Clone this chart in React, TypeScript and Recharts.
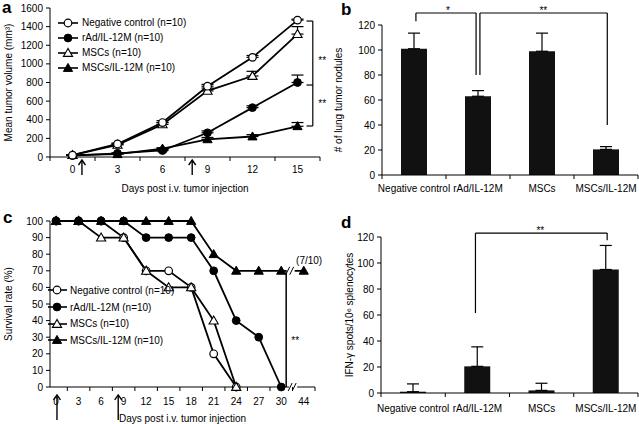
import React from 'react';
import {
  LineChart, Line, BarChart, Bar, XAxis, YAxis, ErrorBar, ReferenceLine, ReferenceDot, Legend,
} from 'recharts';

const FONT = "'Liberation Sans', Arial, Helvetica, sans-serif";

// ---------- shared ----------
const SERIES_NAMES = ['Negative control (n=10)', 'rAd/IL-12M (n=10)', 'MSCs (n=10)', 'MSCs/IL-12M (n=10)'];
const SERIES_KEYS = ['nc', 'rad', 'msc', 'mscil'];
const MARKERS = ['openCircle', 'filledCircle', 'openTriangle', 'filledTriangle'];
const GROUPS = ['Negative control', 'rAd/IL-12M', 'MSCs', 'MSCs/IL-12M'];

// ---------- panel a ----------
const DAYS_A = ['0', '3', '6', '9', '12', '15'];
const NC_A = [20, 140, 370, 760, 1070, 1470];
const RAD_A = [15, 40, 70, 260, 530, 800];
const MSC_A = [20, 130, 350, 710, 870, 1320];
const MSCIL_A = [20, 30, 90, 190, 220, 330];
const NC_A_ERR = [5, 10, 20, 20, 20, 10];
const RAD_A_ERR = [5, 5, 10, 20, 20, 80];
const MSC_A_ERR = [5, 10, 20, 30, 50, 80];
const MSCIL_A_ERR = [5, 5, 10, 20, 20, 40];
const Y_TICKS_A = [0, 200, 400, 600, 800, 1000, 1200, 1400, 1600];

// ---------- panel b ----------
const NODULES = [101, 63, 99, 20.5];
const NODULES_ERR = [12.5, 4.5, 14.5, 2.2];
const Y_TICKS_B = [0, 20, 40, 60, 80, 100, 120];

// ---------- panel c ----------
const DAYS_C = ['0', '3', '6', '9', '12', '15', '18', '21', '24', '27', '30', '44'];
const NC_C = [100, 100, 100, 90, 70, 70, 60, 20, 0];
const RAD_C = [100, 100, 100, 100, 90, 90, 90, 70, 40, 30, 0];
const MSC_C = [100, 100, 90, 90, 70, 60, 60, 40, 0];
const MSCIL_C = [100, 100, 100, 100, 100, 100, 100, 80, 70, 70, 70, 70];
const Y_TICKS_C = [0, 10, 20, 30, 40, 50, 60, 70, 80, 90, 100];

// ---------- panel d ----------
const IFN = [1, 20.5, 2, 95];
const IFN_ERR = [6, 15, 5.5, 18.5];
const Y_TICKS_D = [0, 20, 40, 60, 80, 100, 120];

const rowsA = DAYS_A.map((d, i) => ({
  x: i,
  nc: NC_A[i], rad: RAD_A[i], msc: MSC_A[i], mscil: MSCIL_A[i],
  ncE: [0, NC_A_ERR[i]], radE: [0, RAD_A_ERR[i]], mscE: [0, MSC_A_ERR[i]], mscilE: [0, MSCIL_A_ERR[i]],
}));
const rowsC = DAYS_C.map((d, i) => ({ x: i, nc: NC_C[i], rad: RAD_C[i], msc: MSC_C[i], mscil: MSCIL_C[i] }));
const rowsB = GROUPS.map((g, i) => ({ x: i, name: g, v: NODULES[i], e: [0, NODULES_ERR[i]] }));
const rowsD = GROUPS.map((g, i) => ({ x: i, name: g, v: IFN[i], e: [0, IFN_ERR[i]] }));

const halfTicks = (lo: number, hi: number) => {
  const out: number[] = [];
  for (let v = lo; v <= hi + 1e-9; v += 0.5) out.push(Math.round(v * 10) / 10);
  return out;
};

const drawMarker = (kind: string, cx: number, cy: number, key?: any) => {
  if (cx == null || cy == null || isNaN(cx) || isNaN(cy)) return <g key={key} />;
  if (kind === 'openCircle') return <circle key={key} cx={cx} cy={cy} r={3.8} fill="#fff" stroke="#000" strokeWidth={1.2} />;
  if (kind === 'filledCircle') return <circle key={key} cx={cx} cy={cy} r={3.9} fill="#000" stroke="#000" strokeWidth={1} />;
  const pts = `${cx},${cy - 4.6} ${cx - 4.6},${cy + 3.4} ${cx + 4.6},${cy + 3.4}`;
  if (kind === 'openTriangle') return <polygon key={key} points={pts} fill="#fff" stroke="#000" strokeWidth={1.1} />;
  return <polygon key={key} points={pts} fill="#000" stroke="#000" strokeWidth={1} />;
};

const makeDot = (kind: string) => (p: any) => drawMarker(kind, p.cx, p.cy, p.index);

const catTick = (labels: string[], dy: number) => (p: any) => {
  const { x, y, payload } = p;
  const v = payload.value;
  if (Number.isInteger(v)) {
    return (
      <text x={x} y={y + dy} textAnchor="middle" fontSize={10} fill="#000" fontFamily={FONT}>
        {labels[v]}
      </text>
    );
  }
  return <line x1={x} x2={x} y1={y} y2={y + 4} stroke="#000" strokeWidth={1} />;
};

const arrowShape = (len: number) => (p: any) => {
  const { cx, cy } = p;
  return (
    <g>
      <line x1={cx} x2={cx} y1={cy} y2={cy + len} stroke="#000" strokeWidth={1.4} />
      <path d={`M${cx - 3.5},${cy + 5} L${cx},${cy} L${cx + 3.5},${cy + 5}`} fill="none" stroke="#000" strokeWidth={1.4} />
    </g>
  );
};

const breakShape = (p: any) => {
  const { cx, cy } = p;
  return (
    <g>
      <rect x={cx - 4} y={cy - 2} width={8} height={4} fill="#fff" />
      <line x1={cx - 5} y1={cy + 4} x2={cx - 1} y2={cy - 4} stroke="#000" strokeWidth={1} />
      <line x1={cx - 1} y1={cy + 4} x2={cx + 3} y2={cy - 4} stroke="#000" strokeWidth={1} />
    </g>
  );
};

const legendContent = (lineW: number, markerX: number, gap: number, rowH: number) => () => (
  <div style={{ fontFamily: FONT, fontSize: 10, color: '#000' }}>
    {SERIES_NAMES.map((n, i) => (
      <div key={n} style={{ display: 'flex', alignItems: 'center', height: rowH, whiteSpace: 'nowrap' }}>
        <svg width={lineW} height={12} style={{ display: 'block' }}>
          <line x1={0} x2={lineW} y1={6} y2={6} stroke="#000" strokeWidth={1.6} />
          {drawMarker(MARKERS[i], markerX, 6)}
        </svg>
        <span style={{ marginLeft: gap }}>{n}</span>
      </div>
    ))}
  </div>
);

const axisStroke = { stroke: '#000', strokeWidth: 1 };
const yTick = { fontSize: 10, fill: '#000', fontFamily: FONT };
const yLabel = (value: string, offset: number) => ({
  value, angle: -90, position: 'insideLeft', offset,
  style: { textAnchor: 'middle', fontSize: 10, fill: '#000', fontFamily: FONT },
});
const starLabel = (v: string) => ({ value: v, position: 'center', fontSize: 10, fill: '#000', fontFamily: FONT });

const PanelA = () => (
  <LineChart width={330} height={210} data={rowsA} margin={{ top: 8, right: 10, bottom: 0, left: 0 }}>
    <XAxis type="number" dataKey="x" domain={[-0.5, 5.5]} ticks={halfTicks(-0.5, 5.5)} interval={0}
      tickLine={false} tickSize={0} tickMargin={0} tick={catTick(DAYS_A, 16)} height={53} axisLine={axisStroke}
      label={{ value: 'Days post i.v. tumor injection', position: 'insideBottom', offset: 18, fontSize: 10, fill: '#000', fontFamily: FONT }} />
    <YAxis width={50} domain={[0, 1600]} ticks={Y_TICKS_A} interval={0} tick={yTick} tickSize={4} tickMargin={3}
      axisLine={axisStroke} tickLine={axisStroke} label={yLabel('Mean tumor volume (mm³)', 8)} />
    <Legend layout="vertical" align="center" verticalAlign="middle" wrapperStyle={{ left: 58, top: 15, width: 'auto' }}
      content={legendContent(20, 10, 4, 15)} />
    {[3, 1, 2, 0].map((i) => (
      <Line key={SERIES_KEYS[i]} dataKey={SERIES_KEYS[i]} name={SERIES_NAMES[i]} stroke="#000" strokeWidth={1.8}
        dot={makeDot(MARKERS[i])} activeDot={false} isAnimationActive={false} legendType="none">
        <ErrorBar dataKey={SERIES_KEYS[i] + 'E'} width={6} stroke="#000" strokeWidth={1.2} direction="y" />
      </Line>
    ))}
    <ReferenceLine segment={[{ x: 5.34, y: 1460 }, { x: 5.34, y: 333 }]} stroke="#000" strokeWidth={1.2} ifOverflow="visible" />
    <ReferenceLine segment={[{ x: 5.2, y: 1460 }, { x: 5.34, y: 1460 }]} stroke="#000" strokeWidth={1.2} ifOverflow="visible" />
    <ReferenceLine segment={[{ x: 5.2, y: 773 }, { x: 5.34, y: 773 }]} stroke="#000" strokeWidth={1.2} ifOverflow="visible" />
    <ReferenceLine segment={[{ x: 5.2, y: 333 }, { x: 5.34, y: 333 }]} stroke="#000" strokeWidth={1.2} ifOverflow="visible" />
    <ReferenceDot x={5.55} y={1040} r={0} ifOverflow="visible" label={starLabel('**')} />
    <ReferenceDot x={5.55} y={570} r={0} ifOverflow="visible" label={starLabel('**')} />
    <ReferenceDot x={0.21} y={-32} r={0} ifOverflow="visible" shape={arrowShape(15)} />
    <ReferenceDot x={2.66} y={-32} r={0} ifOverflow="visible" shape={arrowShape(15)} />
  </LineChart>
);

const PanelC = () => (
  <LineChart width={330} height={214} data={rowsC} margin={{ top: 11, right: 15, bottom: 0, left: 0 }}>
    <XAxis type="number" dataKey="x" domain={[-0.27, 11.5]} ticks={halfTicks(0, 11.5)} interval={0}
      tickLine={false} tickSize={0} tickMargin={0} tick={catTick(DAYS_C, 18)} height={37} axisLine={axisStroke}
      allowDataOverflow
      label={{ value: 'Days post i.v. tumor injection', position: 'insideBottom', offset: 2.5, fontSize: 10, fill: '#000', fontFamily: FONT }} />
    <YAxis width={50} domain={[0, 100]} ticks={Y_TICKS_C} interval={0} tick={yTick} tickSize={4} tickMargin={3}
      axisLine={axisStroke} tickLine={axisStroke} label={yLabel('Survival rate (%)', 8)} />
    <Legend layout="vertical" align="center" verticalAlign="middle" wrapperStyle={{ left: 48, top: 72, width: 'auto' }}
      content={legendContent(19, 9, 3, 16.7)} />
    {[0, 2, 1, 3].map((i) => (
      <Line key={SERIES_KEYS[i]} dataKey={SERIES_KEYS[i]} name={SERIES_NAMES[i]} stroke="#000" strokeWidth={1.8}
        dot={makeDot(MARKERS[i])} activeDot={false} isAnimationActive={false} legendType="none" />
    ))}
    <ReferenceLine segment={[{ x: 10.22, y: 70 }, { x: 10.22, y: 0 }]} stroke="#000" strokeWidth={1.5} ifOverflow="visible" />
    <ReferenceDot x={10.62} y={28} r={0} ifOverflow="visible" label={starLabel('**')} />
    <ReferenceDot x={11.24} y={76} r={0} ifOverflow="visible" label={{ value: '(7/10)', position: 'center', fontSize: 10, fill: '#000', fontFamily: FONT }} />
    <ReferenceDot x={10.53} y={0} r={0} ifOverflow="visible" shape={breakShape} />
    <ReferenceDot x={10.42} y={70} r={0} ifOverflow="visible" shape={breakShape} />
    <ReferenceDot x={0.04} y={-4.8} r={0} ifOverflow="visible" shape={arrowShape(25)} />
    <ReferenceDot x={2.76} y={-4.8} r={0} ifOverflow="visible" shape={arrowShape(25)} />
  </LineChart>
);

const BarPanel = ({ rows, yTicks, height, top, yW, label, labelOffset, tickDy, xH, children }: any) => (
  <BarChart width={319} height={height} data={rows} margin={{ top, right: 1, bottom: 0, left: 0 }}>
    <XAxis type="number" dataKey="x" domain={[-0.5, 3.5]} ticks={halfTicks(-0.5, 3.5)} interval={0} allowDataOverflow
      tickLine={false} tickSize={0} tickMargin={0} tick={catTick(GROUPS, tickDy)} height={xH} axisLine={axisStroke} />
    <YAxis width={yW} domain={[0, 120]} ticks={yTicks} interval={0} tick={yTick} tickSize={4} tickMargin={3}
      axisLine={axisStroke} tickLine={axisStroke} label={yLabel(label, labelOffset)} />
    <Bar dataKey="v" fill="#111" barSize={26} isAnimationActive={false}>
      <ErrorBar dataKey="e" width={6} stroke="#000" strokeWidth={1.2} direction="y" />
    </Bar>
    {children}
  </BarChart>
);

const seg = (x1: number, y1: number, x2: number, y2: number, k: string) => (
  <ReferenceLine key={k} segment={[{ x: x1, y: y1 }, { x: x2, y: y2 }]} stroke="#000" strokeWidth={1.2} ifOverflow="visible" />
);

const PanelB = () => (
  <BarPanel rows={rowsB} yTicks={Y_TICKS_B} height={210} top={25} yW={62} label="# of lung tumor nodules" labelOffset={18} tickDy={17} xH={35}>
    {seg(0.03, 129.6, 0.97, 129.6, 'b1')}
    {seg(0.03, 129.6, 0.03, 123, 'b2')}
    {seg(0.97, 129.6, 0.97, 80, 'b3')}
    {seg(1.03, 129.6, 3.02, 129.6, 'b4')}
    {seg(1.03, 129.6, 1.03, 80, 'b5')}
    {seg(3.02, 129.6, 3.02, 40, 'b6')}
    <ReferenceDot x={0.53} y={132} r={0} ifOverflow="visible" label={starLabel('*')} />
    <ReferenceDot x={2.02} y={132} r={0} ifOverflow="visible" label={starLabel('**')} />
  </BarPanel>
);

const PanelD = () => (
  <BarPanel rows={rowsD} yTicks={Y_TICKS_D} height={214} top={27} yW={61} label="IFN-γ spots/10⁶ splenocytes" labelOffset={29} tickDy={19} xH={31}>
    {seg(0.97, 123, 3.02, 123, 'd1')}
    {seg(0.97, 123, 0.97, 61.5, 'd2')}
    {seg(3.02, 123, 3.02, 117.5, 'd3')}
    <ReferenceDot x={1.98} y={125} r={0} ifOverflow="visible" label={starLabel('**')} />
  </BarPanel>
);

export default function App() {
  return (
    <div style={{ position: 'fixed', left: 0, top: 0, width: 639, height: 424, background: '#fff', fontFamily: FONT, overflow: 'hidden' }}>
      <div style={{ position: 'absolute', left: 0, top: 0 }}><PanelA /></div>
      <div style={{ position: 'absolute', left: 320, top: 0 }}><PanelB /></div>
      <div style={{ position: 'absolute', left: 0, top: 210 }}><PanelC /></div>
      <div style={{ position: 'absolute', left: 320, top: 210 }}><PanelD /></div>
      <svg width={639} height={424} style={{ position: 'absolute', left: 0, top: 0, pointerEvents: 'none' }}>
        <g fontFamily={FONT} fontWeight="bold" fontSize={17} fill="#000">
          <text x={2} y={13}>a</text>
          <text x={341} y={15}>b</text>
          <text x={3} y={223}>c</text>
          <text x={341} y={228}>d</text>
        </g>
      </svg>
    </div>
  );
}
